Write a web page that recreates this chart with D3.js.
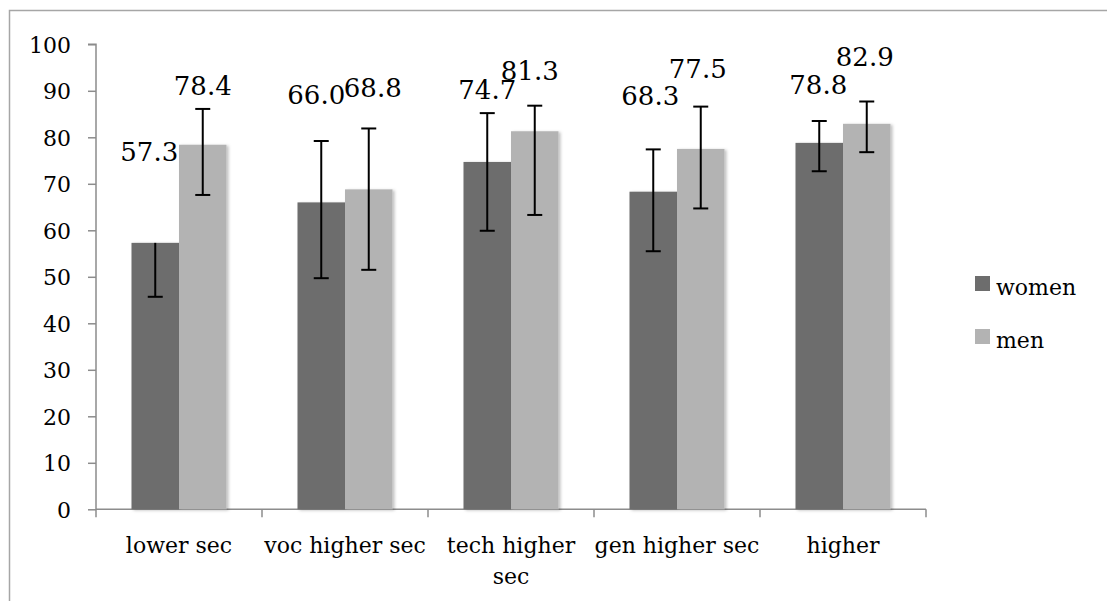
<!DOCTYPE html>
<html>
<head>
<meta charset="utf-8">
<script src="https://cdn.jsdelivr.net/npm/d3@7"></script>
<style>
  html, body { margin: 0; padding: 0; background: #fff; }
  svg { display: block; }
  text { font-family: "DejaVu Serif", serif; fill: #000; }
</style>
</head>
<body>
<svg id="chart" width="1107" height="601"></svg>
<script>
// ---- data ----
const categories = ["lower sec", "voc higher sec", "tech higher sec", "gen higher sec", "higher"];
const tickLabels = [["lower sec"], ["voc higher sec"], ["tech higher", "sec"], ["gen higher sec"], ["higher"]];
const seriesNames = ["women", "men"];
const women = [57.3, 66.0, 74.7, 68.3, 78.8];
const men = [78.4, 68.8, 81.3, 77.5, 82.9];
const womenLow = [45.7, 49.7, 59.9, 55.5, 72.7];
const womenHigh = [57.3, 79.2, 85.2, 77.4, 83.5];
const menLow = [67.6, 51.5, 63.3, 64.7, 76.8];
const menHigh = [86.1, 81.9, 86.8, 86.6, 87.7];
const yTicks = [0, 10, 20, 30, 40, 50, 60, 70, 80, 90, 100];

// ---- layout (manually placed data labels: px above bar top, px horizontal shift) ----
const womenLabelLift = [82, 98, 63, 87, 49];
const menLabelLift = [50, 92, 51, 71, 58];
const womenLabelShift = [-6, -5, 0, -3, -1];
const menLabelShift = [0, 4, -5, -3, -2];

const colors = { women: "#6d6d6d", men: "#b3b3b3" };
const FONT = "DejaVu Serif";

const svg = d3.select("#chart");

const defs = svg.append("defs");
const f = defs.append("filter").attr("id", "shadow").attr("x", "-20%").attr("y", "-20%").attr("width", "140%").attr("height", "140%");
f.append("feDropShadow").attr("dx", 2).attr("dy", 1).attr("stdDeviation", 1.5)
  .attr("flood-color", "#000").attr("flood-opacity", 0.25);

// chart border
svg.append("rect").attr("x", 9.5).attr("y", 10.5).attr("width", 1105).attr("height", 600)
  .attr("fill", "none").attr("stroke", "#a6a6a6").attr("stroke-width", 1.5);

const plot = { left: 96, right: 926, top: 44.3, bottom: 509.3 };

const y = d3.scaleLinear().domain([0, 100]).range([plot.bottom, plot.top]);
const x0 = d3.scaleBand().domain(categories).range([plot.left, plot.right])
  .paddingInner(71 / 166).paddingOuter(71 / 166 / 2);
const x1 = d3.scaleBand().domain(seriesNames).range([0, x0.bandwidth()]).padding(0);

const rows = categories.map((c, i) => ({
  cat: c, i,
  vals: [
    { s: "women", v: women[i], lo: womenLow[i], hi: womenHigh[i], lift: womenLabelLift[i], shift: womenLabelShift[i] },
    { s: "men", v: men[i], lo: menLow[i], hi: menHigh[i], lift: menLabelLift[i], shift: menLabelShift[i] }
  ]
}));

// y axis
const yAxis = d3.axisLeft(y).tickValues(yTicks).tickSize(8).tickPadding(17).tickFormat(d3.format("d"));
const gy = svg.append("g").attr("transform", `translate(${plot.left},0)`).call(yAxis);
gy.attr("font-family", FONT);
gy.select(".domain").attr("stroke", "#8c8c8c").attr("stroke-width", 1.5).attr("d", `M-8,${y(100)}H0V${y(0)}`);
gy.selectAll(".tick line").attr("stroke", "#8c8c8c").attr("stroke-width", 1.5);
gy.selectAll(".tick text").attr("font-size", 22).attr("font-family", FONT).attr("fill", "#000").attr("dy", "0.36em");

// x axis
const step = x0.step();
const boundaries = d3.range(categories.length + 1).map(k => plot.left + k * step);
const gx = svg.append("g");
gx.append("line").attr("x1", plot.left).attr("x2", plot.right).attr("y1", plot.bottom).attr("y2", plot.bottom)
  .attr("stroke", "#8c8c8c").attr("stroke-width", 1.5);
gx.selectAll(".xt").data(boundaries).join("line").attr("class", "xt")
  .attr("x1", d => d).attr("x2", d => d).attr("y1", plot.bottom).attr("y2", plot.bottom + 8)
  .attr("stroke", "#8c8c8c").attr("stroke-width", 1.5);
const xl = gx.selectAll(".xl").data(rows).join("text").attr("class", "xl")
  .attr("text-anchor", "middle").attr("font-size", 22)
  .attr("transform", d => `translate(${x0(d.cat) + x0.bandwidth() / 2},${plot.bottom + 44})`);
xl.selectAll("tspan").data(d => tickLabels[d.i]).join("tspan")
  .attr("x", 0).attr("dy", (d, k) => k === 0 ? 0 : 31).text(d => d);

// bars
const groups = svg.append("g").selectAll("g").data(rows).join("g")
  .attr("transform", d => `translate(${x0(d.cat)},0)`);
groups.selectAll("rect").data(d => d.vals).join("rect")
  .attr("x", d => x1(d.s)).attr("width", x1.bandwidth())
  .attr("y", d => y(d.v)).attr("height", d => y(0) - y(d.v))
  .attr("fill", d => colors[d.s]).attr("filter", "url(#shadow)");

// error bars
const eb = groups.selectAll("g.eb").data(d => d.vals).join("g").attr("class", "eb")
  .attr("transform", d => `translate(${x1(d.s) + x1.bandwidth() / 2},0)`);
eb.append("line").attr("x1", 0).attr("x2", 0).attr("y1", d => y(d.hi)).attr("y2", d => y(d.lo))
  .attr("stroke", "#000").attr("stroke-width", 2);
eb.append("line").attr("x1", -7.5).attr("x2", 7.5).attr("y1", d => y(d.lo)).attr("y2", d => y(d.lo))
  .attr("stroke", "#000").attr("stroke-width", 2);
eb.filter(d => d.hi > d.v).append("line").attr("x1", -7.5).attr("x2", 7.5).attr("y1", d => y(d.hi)).attr("y2", d => y(d.hi))
  .attr("stroke", "#000").attr("stroke-width", 2);

// data labels
groups.selectAll("text.dl").data(d => d.vals).join("text").attr("class", "dl")
  .attr("text-anchor", "middle").attr("font-size", 26)
  .attr("x", d => x1(d.s) + x1.bandwidth() / 2 + d.shift)
  .attr("y", d => y(d.v) - d.lift)
  .text(d => d3.format(".1f")(d.v));

// legend
const lg = svg.append("g").attr("transform", "translate(975,276)");
const li = lg.selectAll("g").data(seriesNames).join("g").attr("transform", (d, k) => `translate(0,${k * 53})`);
li.append("rect").attr("width", 15).attr("height", 15).attr("fill", d => colors[d]);
li.append("text").attr("x", 21).attr("y", 19).attr("font-size", 22).text(d => d);
</script>
</body>
</html>
